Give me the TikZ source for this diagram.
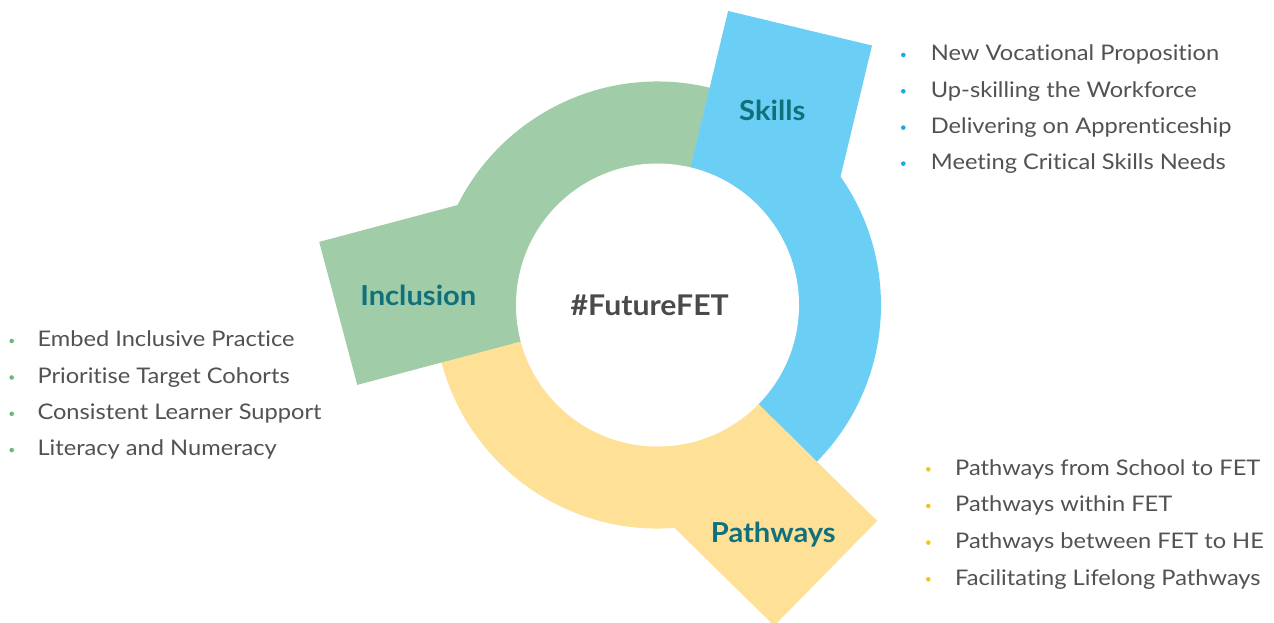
\documentclass[tikz,border=0pt]{standalone}
\usepackage{fontspec}
\setmainfont{Lato}
\newfontfamily\bodyfont{Lato}[FakeStretch=1.10, Ligatures=NoCommon]
\newfontfamily\headfont{Lato}[FakeStretch=1.06, Ligatures=NoCommon]
\definecolor{ringgreen}{HTML}{A0CDA8}
\definecolor{ringblue}{HTML}{6BCEF5}
\definecolor{ringyellow}{HTML}{FEE096}
\definecolor{labelteal}{HTML}{10707C}
\definecolor{centergray}{HTML}{4A4A4A}
\definecolor{bodygray}{HTML}{525252}
\definecolor{dotblue}{HTML}{1EA7E1}
\definecolor{dotgreen}{HTML}{6DB87D}
\definecolor{dotyellow}{HTML}{F5C518}
\tikzset{
  tablabel/.style={anchor=base, inner sep=0pt, text=labelteal, font=\headfont\fontsize{27.5}{30}\selectfont\bfseries},
  centerlabel/.style={anchor=base, inner sep=0pt, text=centergray, font=\headfont\fontsize{28.5}{31}\selectfont\bfseries},
  item/.style={anchor=base west, inner sep=0pt, text=bodygray, font=\bodyfont\fontsize{21.5}{24}\selectfont},
  dot/.style={circle, inner sep=0pt, minimum size=4.6pt}
}
\begin{document}
\begin{tikzpicture}[x=1pt, y=1pt]
\useasboundingbox (0,0) rectangle (1274,-622);
\fill[white] (0,0) rectangle (1274,-622);
% ring sectors
\begin{scope}[shift={(657.5,-305)}]
  \fill[ringgreen] (0,0) -- (76.5:223.5) arc[start angle=76.5, end angle=194.9, radius=223.5] -- cycle;
  \fill[ringblue] (0,0) -- (-44.5:223.5) arc[start angle=-44.5, end angle=76.5, radius=223.5] -- cycle;
  \fill[ringyellow] (0,0) -- (-165.1:223.5) arc[start angle=-165.1, end angle=-44.5, radius=223.5] -- cycle;
  \begin{scope}[rotate=76.5]
    \fill[ringblue] (0,0) rectangle (302.4,-148);
  \end{scope}
  \begin{scope}[rotate=194.9]
    \fill[ringgreen] (0,0) rectangle (310.7,-148);
  \end{scope}
  \begin{scope}[rotate=-44.5]
    \fill[ringyellow] (0,0) rectangle (308,-147);
  \end{scope}
  \fill[white] (0,0) circle[radius=141.5];
\end{scope}
% labels
\node[centerlabel] (fet) at (649.7,-315.7) {\#FutureFET};
\node[tablabel] (skills) at (772.2,-120) {Skills};
\node[tablabel] (inclusion) at (418.3,-305.3) {Inclusion};
\node[tablabel] (pathways) at (773.3,-542.3) {Pathways};
% skills list
\node[item] (s1) at (930.7,-60.7) {New Vocational Proposition};
\node[item] (s2) at (930.7,-97) {Up-skilling the Workforce};
\node[item] (s3) at (930.7,-133.3) {Delivering on Apprenticeship};
\node[item] (s4) at (930.7,-169.3) {Meeting Critical Skills Needs};
\foreach \y in {60.7,97,133.3,169.3} \node[dot, fill=dotblue] at (903.3,-\y+5.7) {};
% inclusion list
\node[item] (i1) at (37.3,-346.7) {Embed Inclusive Practice};
\node[item] (i2) at (37.3,-383.2) {Prioritise Target Cohorts};
\node[item] (i3) at (37.3,-419.5) {Consistent Learner Support};
\node[item] (i4) at (37.3,-455.8) {Literacy and Numeracy};
\foreach \y in {346.7,383.2,419.5,455.8} \node[dot, fill=dotgreen] at (11.7,-\y+5.7) {};
% pathways list
\node[item] (p1) at (955,-475) {Pathways from School to FET};
\node[item] (p2) at (955,-511.7) {Pathways within FET};
\node[item] (p3) at (955,-548.3) {Pathways between FET to HE};
\node[item] (p4) at (955,-585) {Facilitating Lifelong Pathways};
\foreach \y in {475,511.7,548.3,585} \node[dot, fill=dotyellow] at (928.3,-\y+5.7) {};
\end{tikzpicture}
\end{document}
